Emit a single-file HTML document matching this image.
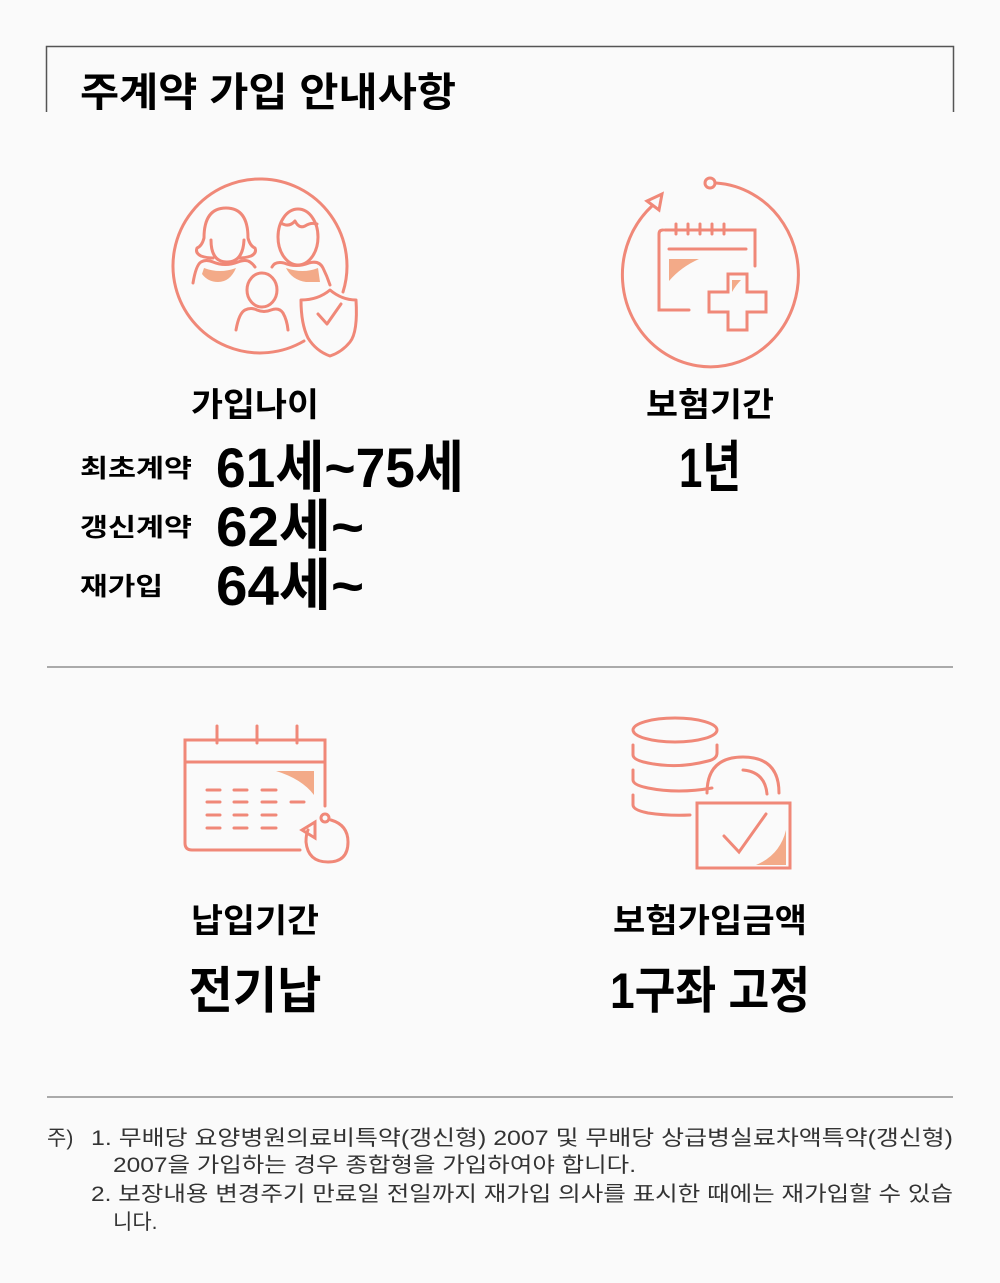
<!DOCTYPE html>
<html><head><meta charset="utf-8">
<style>
html,body{margin:0;padding:0;background:#fafafa;}
body{width:1000px;height:1278px;position:relative;overflow:hidden;font-family:"Liberation Sans","Noto Sans CJK KR",sans-serif;color:#111;}
svg text{font-family:"Liberation Sans","Noto Sans CJK KR",sans-serif;}
</style></head>
<body>
<svg width="1000" height="1278" viewBox="0 0 1000 1278" xmlns="http://www.w3.org/2000/svg">
<g fill="none" stroke="#555" stroke-width="1.5">
  <polyline points="46.5,112 46.5,46.5 953.5,46.5 953.5,112"/>
</g>
<text x="80" y="106" font-size="40" font-weight="bold" textLength="376" lengthAdjust="spacingAndGlyphs">주계약 가입 안내사항</text>

<!-- icon: family -->
<g fill="none" stroke="#f08878" stroke-width="3" stroke-linecap="round" stroke-linejoin="round">
  <path d="M304,341 A87,87 0 1 1 343,292"/>
  <path d="M213,258 q-6,0 -12,-2 q-6,-3 -4,-8 q5,-2 7,-10 q0,-30 22,-30 q22,0 22,30 q2,8 7,10 q2,5 -4,8 q-6,2 -12,2"/>
  <path d="M211,240 q0,22 16,22 q16,0 17,-22"/>
  <path d="M193,283 q3,-18 8,-21 q5,-3 12,0 q12,5 25,0 q8,-3 12,0 q3,2 5,5"/>
  <ellipse cx="298" cy="237" rx="20" ry="28"/>
  <path d="M281,223 q8,5 14,-2 q4,8 10,5 q6,-4 12,-2"/>
  <path d="M272,267 q3,-6 12,-4 q12,5 25,0 q10,-3 14,5 q4,8 7,17"/>
  <ellipse cx="262" cy="290" rx="15" ry="17"/>
  <path d="M236,330 q3,-17 9,-20 q6,-3 12,0 q7,3 14,0 q8,-3 12,3 q4,7 5,17"/>
  <path d="M301,300 q17,0 29,-10 q12,10 26,10 q2,32 -6,42 q-8,10 -20,14 q-14,-5 -22,-18 q-7,-14 -7,-38z"/>
  <path d="M318,314 l9,10 l14,-20"/>
  <path d="M204,268 q16,6 32,0 q-6,14 -18,14 q-10,0 -16,-8z" fill="#f3aa88" stroke="none"/>
  <path d="M286,268 q17,6 32,0 l2,14 q-6,0 -14,0 q-14,-2 -20,-14z" fill="#f3aa88" stroke="none"/>
</g>

<!-- icon: period -->
<g fill="none" stroke="#f08878" stroke-width="3" stroke-linecap="round">
  <path d="M716,183 A88,92 0 1 1 652,206"/>
  <circle cx="710" cy="183" r="5"/>
  <path d="M647,201 l15,-7 l-3,16z"/>
  <path d="M663,230 q-4,0 -4,4 v76 h30 M665,230 h90 v36 M676,224 v10 M688,224 v10 M700,224 v10 M712,224 v10 M724,224 v10 M669,249 h77"/>
  <path d="M728,274 h19 v18 h19 v20 h-19 v18 h-19 v-18 h-19 v-20 h19z"/>
  <path d="M669,259 h30 q-18,8 -30,22z" fill="#f3aa88" stroke="none"/>
  <path d="M732,280 h9 q-5,5 -9,12z" fill="#f3aa88" stroke="none"/>
</g>

<text x="255" y="416" text-anchor="middle" font-size="33" font-weight="bold" textLength="128" lengthAdjust="spacingAndGlyphs">가입나이</text>
<text x="80" y="477" font-size="25" font-weight="bold" textLength="112" lengthAdjust="spacingAndGlyphs">최초계약</text>
<text x="80" y="536" font-size="25" font-weight="bold" textLength="112" lengthAdjust="spacingAndGlyphs">갱신계약</text>
<text x="80" y="595" font-size="25" font-weight="bold" textLength="83" lengthAdjust="spacingAndGlyphs">재가입</text>
<g font-size="56" font-weight="bold">
  <text x="216" y="487" textLength="248" lengthAdjust="spacingAndGlyphs">61세~75세</text>
  <text x="216" y="546" textLength="148" lengthAdjust="spacingAndGlyphs">62세~</text>
  <text x="216" y="605" textLength="148" lengthAdjust="spacingAndGlyphs">64세~</text>
</g>
<text x="710" y="416" text-anchor="middle" font-size="33" font-weight="bold" textLength="128" lengthAdjust="spacingAndGlyphs">보험기간</text>
<text x="710" y="487" text-anchor="middle" font-size="56" font-weight="bold" textLength="62" lengthAdjust="spacingAndGlyphs">1년</text>

<line x1="47" y1="667" x2="953" y2="667" stroke="#aaa" stroke-width="2"/>

<!-- icon: payment calendar -->
<g fill="none" stroke="#f08878" stroke-width="3" stroke-linecap="round">
  <path d="M300,850 h-108 q-7,0 -7,-7 v-103 h140 v66 M185,762 h140 M217,726 v17 M257,726 v17 M297,726 v17"/>
  <path d="M331,820 q17,5 17,22 q0,20 -20,20 q-20,0 -22,-20 q0,-8 2,-12"/>
  <circle cx="325" cy="818" r="4"/>
  <path d="M302,830 l13,-8 l0,16z"/>
  <path d="M207,790 h13 M234,790 h13 M262,790 h14 M207,802 h13 M234,802 h13 M262,802 h14 M291,802 h13 M207,815 h13 M234,815 h13 M262,815 h14 M207,828 h13 M234,828 h13 M262,828 h14"/>
  <path d="M276,771 h38 v24 q-12,-16 -38,-24z" fill="#f3aa88" stroke="none"/>
</g>
<!-- icon: coins lock -->
<g fill="none" stroke="#f08878" stroke-width="3" stroke-linecap="round">
  <ellipse cx="675" cy="730" rx="42" ry="12"/>
  <path d="M633,745 v10 q0,5 15,8 q30,6 60,-2 q9,-2 9,-8 v-8 M633,770 v10 q0,5 15,8 q30,6 64,0 M633,795 v10 q0,5 15,8 q20,3 42,2"/>
  <path d="M707,793 q0,-36 36,-36 q36,0 36,36 M743,770 q22,2 24,24"/>
  <rect x="697" y="803" width="93" height="65"/>
  <path d="M724,836 l15,16 l27,-38"/>
  <path d="M786,830 v35 h-30 q24,-10 30,-35z" fill="#f3aa88" stroke="none"/>
</g>

<text x="255" y="932" text-anchor="middle" font-size="33" font-weight="bold" textLength="128" lengthAdjust="spacingAndGlyphs">납입기간</text>
<text x="255" y="1008" text-anchor="middle" font-size="50" font-weight="bold" textLength="133" lengthAdjust="spacingAndGlyphs">전기납</text>
<text x="710" y="932" text-anchor="middle" font-size="33" font-weight="bold" textLength="194" lengthAdjust="spacingAndGlyphs">보험가입금액</text>
<text x="710" y="1008" text-anchor="middle" font-size="50" font-weight="bold" textLength="200" lengthAdjust="spacingAndGlyphs">1구좌 고정</text>

<line x1="47" y1="1097" x2="953" y2="1097" stroke="#aaa" stroke-width="2"/>

<g font-size="21" fill="#333">
  <text x="47" y="1145">주)</text>
  <text x="91" y="1145" textLength="862" lengthAdjust="spacingAndGlyphs">1. 무배당 요양병원의료비특약(갱신형) 2007 및 무배당 상급병실료차액특약(갱신형)</text>
  <text x="113" y="1172" textLength="523" lengthAdjust="spacingAndGlyphs">2007을 가입하는 경우 종합형을 가입하여야 합니다.</text>
  <text x="91" y="1201" textLength="862" lengthAdjust="spacingAndGlyphs">2. 보장내용 변경주기 만료일 전일까지 재가입 의사를 표시한 때에는 재가입할 수 있습</text>
  <text x="113" y="1229">니다.</text>
</g>
</svg>
</body></html>
